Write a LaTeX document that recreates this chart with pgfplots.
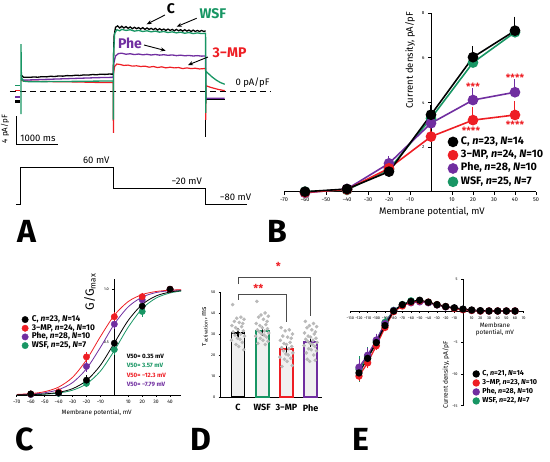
\documentclass[border=0pt]{standalone}
\usepackage{fontspec}
\setmainfont{Fira Sans}
\setsansfont{Fira Sans}
\usepackage{pgfplots}
\pgfplotsset{compat=1.18}
\usetikzlibrary{arrows.meta}
\definecolor{cgrn}{RGB}{24,150,100}
\definecolor{cred}{RGB}{238,30,36}
\definecolor{cpur}{RGB}{112,46,160}
\newcommand{\fs}[1]{\fontsize{#1}{#1}\selectfont}
\pgfplotsset{every axis/.append style={/pgf/number format/assume math mode=true}}
\begin{document}
\begin{tikzpicture}
\useasboundingbox (0pt,0pt) rectangle (550pt,462pt);

% ================= Panel A: traces =================
\begin{axis}[at={(0pt,315pt)},anchor=south west,scale only axis,width=273pt,height=140pt,
  xmin=-500,xmax=6000,ymin=-8,ymax=12,axis lines=none,clip=false]
\addplot[black,line width=0.9pt,dash pattern=on 6pt off 4pt] coordinates {(-262,0)(5929,0)};
\addplot[cgrn,line width=1.3pt] coordinates {(-140,0.76)(-30,0.76)};
\addplot[cred,line width=1.3pt] coordinates {(-140,0.04)(-30,0.04)};
\addplot[cpur,line width=2pt] coordinates {(-140,-0.9)(-30,-0.9)};
\addplot[black,line width=2.5pt] coordinates {(-140,-1.5)(-30,-1.5)};
% 3-MP
\addplot[cred,line width=1.2pt] coordinates {(0,1.5)(60,1.45)(200,1.4)(400,1.38)(600,1.35)(800,1.33)(1000,1.3)(1200,1.3)(1400,1.28)(1600,1.25)(1800,1.22)(2000,1.2)(2195,1.2)(2200,-6)(2205,2.6)(2230,3.5)(2280,3.85)(2350,3.8)(2450,3.65)(2550,3.7)(2650,3.55)(2750,3.6)(2850,3.5)(2950,3.55)(3050,3.4)(3150,3.5)(3250,3.35)(3350,3.45)(3450,3.3)(3550,3.4)(3650,3.3)(3750,3.35)(3850,3.2)(3950,3.3)(4050,3.2)(4150,3.25)(4250,3.15)(4350,3.2)(4395,3.2)(4400,-4.14)(4405,0.75)(4500,0.55)(4600,0.38)(4700,0.22)(4850,0.05)};
% Phe
\addplot[cpur,line width=1.3pt] coordinates {(0,1.7)(60,1.55)(200,1.58)(400,1.62)(600,1.66)(800,1.7)(1000,1.74)(1200,1.78)(1400,1.82)(1600,1.86)(1800,1.9)(2000,1.93)(2195,1.95)(2210,4.0)(2250,5.0)(2320,5.35)(2400,5.4)(2500,5.25)(2600,5.32)(2700,5.2)(2800,5.28)(2900,5.17)(3000,5.24)(3100,5.14)(3200,5.22)(3300,5.12)(3400,5.18)(3500,5.1)(3600,5.15)(3700,5.05)(3800,5.12)(3900,5.03)(4000,5.08)(4100,5.0)(4200,5.05)(4300,4.98)(4395,5.0)(4400,-1.05)(4850,-1.05)};
% C
\addplot[black,line width=1.3pt] coordinates {(0,2.3)(60,1.95)(200,1.95)(300,2.0)(400,1.97)(500,2.05)(600,2.02)(700,2.1)(800,2.07)(900,2.15)(1000,2.12)(1100,2.2)(1200,2.17)(1300,2.25)(1400,2.22)(1500,2.3)(1600,2.27)(1700,2.35)(1800,2.32)(1900,2.4)(2000,2.37)(2100,2.42)(2195,2.4)(2215,7.8)(2250,9.1)(2300,9.3)(2350,9.0)(2400,9.25)(2450,9.0)(2500,9.2)(2550,8.95)(2600,9.15)(2650,8.9)(2700,9.1)(2750,8.9)(2800,9.05)(2850,8.85)(2900,9.05)(2950,8.8)(3000,9.0)(3050,8.8)(3100,8.95)(3150,8.75)(3200,8.95)(3250,8.7)(3300,8.9)(3350,8.7)(3400,8.85)(3450,8.65)(3500,8.85)(3550,8.65)(3600,8.8)(3650,8.6)(3700,8.8)(3750,8.6)(3800,8.75)(3850,8.55)(3900,8.75)(3950,8.55)(4000,8.7)(4050,8.5)(4100,8.7)(4150,8.5)(4200,8.65)(4250,8.5)(4300,8.65)(4350,8.5)(4395,8.6)};
\addplot[black,line width=1.3pt] coordinates {(4410,-1.25)(4850,-1.25)};
% WSF
\addplot[cgrn,line width=1.3pt] coordinates {(0,-3.3)(0,6.7)(10,1.9)(60,1.4)(200,1.32)(400,1.33)(600,1.34)(800,1.35)(1000,1.36)(1200,1.37)(1400,1.38)(1600,1.4)(1800,1.41)(2000,1.42)(2195,1.43)(2200,-4.1)(2205,5.5)(2230,8.2)(2280,8.75)(2350,8.6)(2400,8.8)(2500,8.65)(2600,8.75)(2700,8.55)(2800,8.65)(2900,8.5)(3000,8.6)(3100,8.45)(3200,8.55)(3300,8.4)(3400,8.5)(3500,8.35)(3600,8.45)(3700,8.3)(3800,8.4)(3900,8.25)(4000,8.35)(4100,8.2)(4200,8.3)(4300,8.2)(4395,8.25)(4400,-3.14)(4405,2.8)(4450,2.55)(4550,2.0)(4650,1.55)(4750,1.2)(4850,0.96)};
\addplot[black,line width=1.3pt] coordinates {(4400,-4.14)(4400,-6.57)};
% annotations
\node[font=\fs{14}\bfseries] at (axis cs:3571,11.71) {C};
\draw[-{Stealth[length=5pt,width=4pt]},line width=0.9pt] (axis cs:3429,10.86) -- (axis cs:2993,9.53);
\node[font=\fs{14}\bfseries,text=cgrn] at (axis cs:4571,11) {WSF};
\draw[-{Stealth[length=5pt,width=4pt]},line width=0.9pt] (axis cs:4183,10.39) -- (axis cs:3707,9.19);
\node[font=\fs{14}\bfseries,text=cpur] at (axis cs:2595,6.79) {Phe};
\draw[-{Stealth[length=5pt,width=4pt]},line width=0.9pt] (axis cs:2929,6.57) -- (axis cs:3445,5.76);
\node[font=\fs{14}\bfseries,text=cred] at (axis cs:4964,5.5) {3−MP};
\draw[-{Stealth[length=5pt,width=4pt]},line width=0.9pt] (axis cs:4452,4.86) -- (axis cs:3976,3.71);
\node[anchor=west,font=\fs{9.5}] at (axis cs:5024,1.14) {0 pA/pF};
\draw[line width=0.9pt] (axis cs:-119,-3.6) -- (axis cs:-119,-7.57) -- (axis cs:881,-7.57);
\node[rotate=90,font=\fs{8}] at (axis cs:-381,-5.43) {4 pA/pF};
\node[font=\fs{9.5}] at (axis cs:405,-6.8) {1000 ms};
\end{axis}

% ================= Panel A: protocol =================
\begin{axis}[at={(0pt,246.75pt)},anchor=south west,scale only axis,width=273pt,height=57.75pt,
  xmin=-500,xmax=6000,ymin=-120,ymax=100,axis lines=none,clip=false]
\addplot[black,line width=1pt] coordinates {(-120,-80)(0,-80)(0,60)(2200,60)(2200,-20)(4400,-20)(4400,-80)(5380,-80)};
\node[anchor=south east,font=\fs{9.5}] at (axis cs:2190,62) {60 mV};
\node[anchor=south east,font=\fs{9.5}] at (axis cs:4390,-18) {−20 mV};
\node[anchor=south west,font=\fs{9.5}] at (axis cs:4650,-78) {−80 mV};
\end{axis}

% ================= Panel B =================
\begin{axis}[at={(284pt,270.3pt)},anchor=south west,scale only axis,width=252pt,height=178.4pt,
  xmin=-70,xmax=50,ymin=0,ymax=8,axis lines=middle,axis line style={-,line width=0.9pt},clip=false,
  xtick={-70,-60,...,50},xticklabels={−70,−60,−50,−40,−30,−20,−10,0,10,20,30,40,50},
  ytick={2,4,6,8},tick align=outside,major tick length=3pt,tick style={black,line width=0.8pt},
  xticklabel style={font=\fs{5.5}},yticklabel style={font=\fs{4.5}},
  xlabel={Membrane potential, mV},ylabel={Current density, pA/pF},
  xlabel style={at={(axis description cs:0.587,-0.114)},anchor=center,font=\fs{9.5}},
  ylabel style={at={(axis description cs:0.5,0.738)},anchor=center,rotate=90,font=\fs{9.5}},
  reverse legend,legend cell align=left,
  legend image code/.code={\draw[#1,only marks] plot coordinates {(4.5pt,0pt)};},
  legend style={at={(axis description cs:0.652,0.3055)},anchor=north west,draw=none,fill=none,
    inner sep=0pt,row sep=4.3pt,column sep=3.5pt,font=\fs{10.8}\bfseries,
    nodes={inner sep=0pt,text height=7pt,text depth=2pt}},
  error bars/error bar style={line width=1pt},
  error bars/error mark options={line width=1pt,mark size=4pt}]
\addplot[cgrn,line width=1.6pt,mark=*,mark size=4.5pt,error bars/.cd,y dir=plus,y explicit]
  coordinates {(-60,0) +- (0,0.04) (-40,0.08) +- (0,0.04) (-20,1.0) +- (0,0.1) (0,3.29) +- (0,0.25) (20,5.79) +- (0,0.3) (40,7.15) +- (0,0.3)};
\addlegendentry{WSF, \textit{n}=25, \textit{N}=7}
\addplot[cpur,line width=1.6pt,mark=*,mark size=4.5pt,error bars/.cd,y dir=plus,y explicit]
  coordinates {(-60,-0.05) +- (0,0.04) (-40,0.12) +- (0,0.05) (-20,1.27) +- (0,0.15) (0,3.07) +- (0,0.2) (20,4.11) +- (0,0.35) (40,4.46) +- (0,0.4)};
\addlegendentry{Phe, \textit{n}=28, \textit{N}=10}
\addplot[cred,line width=1.6pt,mark=*,mark size=4.5pt,error bars/.cd,y dir=plus,y explicit]
  coordinates {(-60,-0.03) +- (0,0.04) (-40,0.1) +- (0,0.04) (-20,1.05) +- (0,0.1) (0,2.47) +- (0,0.3) (20,3.21) +- (0,0.42) (40,3.44) +- (0,0.45)};
\addlegendentry{3−MP, \textit{n}=24, \textit{N}=10}
\addplot[black,line width=1.6pt,mark=*,mark size=4.5pt,error bars/.cd,y dir=plus,y explicit]
  coordinates {(-60,0) +- (0,0.05) (-40,0.12) +- (0,0.05) (-20,0.9) +- (0,0.1) (0,3.45) +- (0,0.25) (20,6.03) +- (0,0.32) (40,7.22) +- (0,0.45)};
\addlegendentry{C, \textit{n}=23, \textit{N}=14}
\node[text=cred,font=\fs{10}\bfseries] at (axis cs:20,4.69) {***};
\node[text=cred,font=\fs{10}\bfseries] at (axis cs:40,5.1) {****};
\node[text=cred,font=\fs{10}\bfseries] at (axis cs:19,2.72) {****};
\node[text=cred,font=\fs{10}\bfseries] at (axis cs:40,2.99) {****};
\end{axis}

% ================= Panel C =================
\begin{axis}[at={(16.8pt,67pt)},anchor=south west,scale only axis,width=164.4pt,height=116.3pt,
  xmin=-70,xmax=48,ymin=0,ymax=1.1,axis lines=middle,axis line style={-,line width=0.8pt},clip=false,
  xtick={-70,-60,...,40},xticklabels={−70,−60,−50,−40,−30,−20,−10,0,10,20,30,40},
  ytick={0.5,1.0},yticklabels={0.5,1.0},tick align=outside,major tick length=2pt,tick style={black,line width=0.6pt},
  xticklabel style={font=\fs{5}},yticklabel style={font=\fs{3.8}},
  xlabel={Membrane potential, mV},ylabel={G/G\textsubscript{max}},
  xlabel style={at={(axis description cs:0.486,-0.149)},anchor=center,font=\fs{6.3}},
  ylabel style={at={(axis description cs:0.445,0.886)},anchor=center,rotate=90,font=\fs{12}},
  reverse legend,legend cell align=left,
  legend image code/.code={\draw[#1,only marks] plot coordinates {(3.2pt,0pt)};},
  legend style={at={(axis description cs:0.030,0.679)},anchor=north west,draw=none,fill=none,
    inner sep=0pt,row sep=1.97pt,column sep=3.5pt,font=\fs{8.3}\bfseries,
    nodes={inner sep=0pt,text height=5.2pt,text depth=1.5pt}},
  error bars/error bar style={line width=0.7pt},
  error bars/error mark options={line width=0.7pt,mark size=2pt}]
\addplot[cgrn,line width=0.8pt,smooth,forget plot] coordinates {(-70,0.0012)(-60,0.0031)(-50,0.0076)(-40,0.0187)(-30,0.0451)(-20,0.105)(-10,0.2255)(0,0.420)(10,0.642)(20,0.817)(30,0.917)(40,0.965)(48,0.983)};
\addplot[cpur,line width=0.8pt,smooth,forget plot] coordinates {(-70,0.0035)(-60,0.0086)(-50,0.0211)(-40,0.0508)(-30,0.117)(-20,0.248)(-10,0.450)(0,0.670)(10,0.834)(20,0.926)(30,0.969)(40,0.987)(48,0.994)};
\addplot[cred,line width=0.8pt,smooth,forget plot] coordinates {(-70,0.0052)(-60,0.0129)(-50,0.0314)(-40,0.0746)(-30,0.167)(-20,0.332)(-10,0.552)(0,0.754)(10,0.884)(20,0.950)(30,0.979)(40,0.9915)(48,0.996)};
\addplot[black,line width=0.8pt,smooth,forget plot] coordinates {(-70,0.0017)(-60,0.0041)(-50,0.0102)(-40,0.0249)(-30,0.0596)(-20,0.136)(-10,0.281)(0,0.492)(10,0.706)(20,0.856)(30,0.937)(40,0.974)(48,0.987)};
\addplot[cgrn,only marks,mark=*,mark size=3.2pt,error bars/.cd,y dir=both,y explicit]
  coordinates {(-60,0.005) +- (0,0.01) (-40,0.015) +- (0,0.01) (-20,0.11) +- (0,0.02) (0,0.43) +- (0,0.03) (20,0.79) +- (0,0.03) (40,1.0) +- (0,0.01)};
\addlegendentry{WSF, \textit{n}=25, \textit{N}=7}
\addplot[cpur,only marks,mark=*,mark size=3.2pt,error bars/.cd,y dir=both,y explicit]
  coordinates {(-60,0.005) +- (0,0.01) (-40,0.02) +- (0,0.01) (-20,0.27) +- (0,0.03) (0,0.67) +- (0,0.03) (20,0.90) +- (0,0.02) (40,1.0) +- (0,0.01)};
\addlegendentry{Phe, \textit{n}=28, \textit{N}=10}
\addplot[cred,only marks,mark=*,mark size=3.2pt,error bars/.cd,y dir=both,y explicit]
  coordinates {(-60,0.01) +- (0,0.01) (-40,0.03) +- (0,0.01) (-20,0.36) +- (0,0.03) (0,0.74) +- (0,0.03) (20,0.93) +- (0,0.02) (40,1.0) +- (0,0.01)};
\addlegendentry{3−MP, \textit{n}=24, \textit{N}=10}
\addplot[black,only marks,mark=*,mark size=3.2pt,error bars/.cd,y dir=both,y explicit]
  coordinates {(-60,0.01) +- (0,0.01) (-40,0.02) +- (0,0.01) (-20,0.14) +- (0,0.03) (0,0.49) +- (0,0.03) (20,0.84) +- (0,0.03) (40,1.0) +- (0,0.01)};
\addlegendentry{C, \textit{n}=23, \textit{N}=14}
\node[anchor=west,font=\fs{6.2}\bfseries,text=black] at (axis cs:6.5,0.369) {V50= 0.35 mV};
\node[anchor=west,font=\fs{6.2}\bfseries,text=cgrn] at (axis cs:6.5,0.284) {V50= 3.57 mV};
\node[anchor=west,font=\fs{6.2}\bfseries,text=cred] at (axis cs:6.5,0.189) {V50= −12.3 mV};
\node[anchor=west,font=\fs{6.2}\bfseries,text=cpur] at (axis cs:6.5,0.101) {V50= −7.79 mV};
\end{axis}

% ================= Panel D =================
\begin{axis}[at={(220.7pt,65pt)},anchor=south west,scale only axis,width=101.3pt,height=105pt,
  xmin=-0.715,xmax=3.47,ymin=0,ymax=50,axis lines=left,axis line style={-,line width=0.8pt},clip=false,
  xtick={0,1,2,3},xticklabels={C,WSF,3−MP,Phe},major x tick style={draw=none},
  ytick={0,10,...,50},tick align=outside,major tick length=2pt,tick style={black,line width=0.6pt},
  xticklabel style={font=\fs{9}\bfseries,yshift=-2pt},yticklabel style={font=\fs{3.8}},
  ylabel={τ\textsubscript{activation}, ms},
  ylabel style={at={(axis description cs:-0.155,0.67)},anchor=center,font=\fs{7}}]
\addplot[ybar,bar width=13pt,bar shift=0pt,draw=none,fill=gray!12] coordinates {(0,30.5)};
\addplot[ybar,bar width=13pt,bar shift=0pt,draw=none,fill=gray!12] coordinates {(1,31.6)};
\addplot[ybar,bar width=13pt,bar shift=0pt,draw=none,fill=gray!12] coordinates {(2,22.9)};
\addplot[ybar,bar width=13pt,bar shift=0pt,draw=none,fill=gray!12] coordinates {(3,26.3)};
\addplot[only marks,mark=*,mark size=1.6pt,gray!55] coordinates {
(-0.22,44)(0.12,38)(-0.05,37.5)(0.25,37)(-0.15,36)(0.05,35.5)(0.2,35)(-0.25,34)(0.15,33.5)(-0.1,33)(0,32)(0.22,31.5)(-0.2,31)(0.1,30)(-0.12,29.5)(0.27,29)(-0.02,28)(0.08,27.5)(-0.27,27)(0.18,26)(-0.08,25)(0.03,24)(0.24,22.5)
(0.78,45.5)(1.12,40)(0.95,39)(1.25,38.5)(0.85,38)(1.05,37)(1.2,36)(0.75,35)(1.15,34.5)(0.9,34)(1.0,33)(1.22,32.5)(0.8,32)(1.1,31.5)(0.88,31)(1.27,30.5)(0.98,30)(1.08,29.5)(0.73,29)(1.18,28.5)(0.92,28)(1.03,27)(1.24,26.5)(0.82,25.5)(1.13,25)
(1.78,33)(2.12,32)(1.95,31.5)(2.25,30)(1.85,29)(2.05,28.5)(2.2,28)(1.75,27)(2.15,26)(1.9,25.5)(2.0,25)(2.22,24)(1.8,23.5)(2.1,23)(1.88,22)(2.27,21)(1.98,20.5)(2.08,20)(1.73,19)(2.18,18.5)(1.92,18)(2.03,17)(2.24,15)(1.82,14.5)
(2.78,36)(3.12,35)(2.95,34)(3.25,33.5)(2.85,33)(3.05,32)(3.2,31)(2.75,30.5)(3.15,30)(2.9,29)(3.0,28.5)(3.22,28)(2.8,27.5)(3.1,27)(2.88,26.5)(3.27,26)(2.98,25.5)(3.08,25)(2.73,24.5)(3.18,24)(2.92,23)(3.03,22.5)(3.24,22)(2.82,21)(3.13,20)(2.86,18)(3.19,17.5)(2.96,17)};
\addplot[ybar,bar width=13pt,bar shift=0pt,draw=black,line width=1.8pt,fill=none,error bars/.cd,y dir=both,y explicit,error bar style={line width=1.3pt},error mark options={line width=1.3pt,mark size=3pt}] coordinates {(0,30.5) +- (0,1.0)};
\addplot[ybar,bar width=13pt,bar shift=0pt,draw=cgrn,line width=1.8pt,fill=none,error bars/.cd,y dir=both,y explicit,error bar style={line width=1.3pt},error mark options={line width=1.3pt,mark size=3pt}] coordinates {(1,31.6) +- (0,1.0)};
\addplot[ybar,bar width=13pt,bar shift=0pt,draw=cred,line width=1.8pt,fill=none,error bars/.cd,y dir=both,y explicit,error bar style={line width=1.3pt},error mark options={line width=1.3pt,mark size=3pt}] coordinates {(2,22.9) +- (0,1.2)};
\addplot[ybar,bar width=13pt,bar shift=0pt,draw=cpur,line width=1.8pt,fill=none,error bars/.cd,y dir=both,y explicit,error bar style={line width=1.3pt},error mark options={line width=1.3pt,mark size=3pt}] coordinates {(3,26.3) +- (0,1.0)};
\draw[black!70,line width=0.9pt] (axis cs:0,53.7) -- (axis cs:0,56.8) -- (axis cs:3,56.8) -- (axis cs:3,38.7);
\draw[black!70,line width=0.9pt] (axis cs:0,46.2) -- (axis cs:0,48.9) -- (axis cs:2,48.9) -- (axis cs:2,35.9);
\node[text=cred,font=\fs{11}\bfseries] at (axis cs:1.67,62) {*};
\node[text=cred,font=\fs{11}\bfseries] at (axis cs:0.84,51.5) {**};
\end{axis}

% ================= Panel E =================
\begin{axis}[at={(350.3pt,56.2pt)},anchor=south west,scale only axis,width=173.4pt,height=126.4pt,
  xmin=-130,xmax=70,ymin=-15,ymax=5,axis lines=middle,axis line style={-,line width=0.8pt},clip=false,
  xtick={-130,-120,-110,-100,-90,-80,-70,-60,-50,-40,-30,-20,-10,10,20,30,40,50,60,70},
  xticklabels={−130,−120,−110,−100,−90,−80,−70,−60,−50,−40,−30,−20,−10,10,20,30,40,50,60,70},
  ytick={-15,-10,-5,5},yticklabels={−15,−10,−5,5},
  tick align=outside,major tick length=2pt,tick style={black,line width=0.6pt},
  xticklabel style={font=\fs{3.8}},yticklabel style={font=\fs{3.8}},
  xlabel={Membrane\\potential, mV},ylabel={Current density, pA/pF},
  xlabel style={at={(axis description cs:0.834,0.604)},anchor=center,align=center,font=\fs{6.3}},
  ylabel style={at={(axis description cs:0.552,0.244)},anchor=center,rotate=90,font=\fs{6.6}},
  reverse legend,legend cell align=left,
  legend image code/.code={\draw[#1,only marks] plot coordinates {(3pt,0pt)};},
  legend style={at={(axis description cs:0.7076,0.2773)},anchor=north west,draw=none,fill=none,
    inner sep=0pt,row sep=3pt,column sep=3.3pt,font=\fs{7.2}\bfseries,
    nodes={inner sep=0pt,text height=4.5pt,text depth=1.3pt}},
  error bars/error bar style={line width=0.7pt},
  error bars/error mark options={line width=0.7pt,mark size=2pt}]
\addplot[cgrn,line width=1.3pt,mark=*,mark size=3pt,error bars/.cd,y dir=both,y explicit]
  coordinates {(-120,-9.2) +- (0,1.7) (-110,-7.2) +- (0,1.2) (-100,-4.8) +- (0,0.9) (-90,-1.8) +- (0,0.5) (-80,0.1) (-70,1.0) (-60,1.6) (-50,1.6) (-40,1.35) (-30,1.0) (-20,0.7) (-10,0.45) (0,0.25) (10,0.1) (20,0) (30,0) (40,0) (50,0) (60,0)};
\addlegendentry{WSF, \textit{n}=22, \textit{N}=7}
\addplot[cpur,line width=1.3pt,mark=*,mark size=3pt,error bars/.cd,y dir=both,y explicit]
  coordinates {(-120,-8.9) +- (0,1.0) (-110,-7.0) +- (0,0.9) (-100,-4.6) +- (0,0.7) (-90,-2.0) +- (0,0.4) (-80,0.05) (-70,0.9) (-60,1.3) (-50,1.45) (-40,1.3) (-30,0.95) (-20,0.65) (-10,0.45) (0,0.25) (10,0.1) (20,0) (30,0) (40,0) (50,0) (60,0)};
\addlegendentry{Phe, \textit{n}=28, \textit{N}=10}
\addplot[cred,line width=1.3pt,mark=*,mark size=3pt,error bars/.cd,y dir=both,y explicit]
  coordinates {(-120,-10.3) +- (0,0.5) (-110,-8.2) +- (0,0.5) (-100,-5.5) +- (0,0.4) (-90,-2.6) +- (0,0.3) (-80,-0.1) (-70,0.8) (-60,1.4) (-50,1.6) (-40,1.4) (-30,1.0) (-20,0.7) (-10,0.4) (0,0.2) (10,0.1) (20,0) (30,0) (40,0) (50,0) (60,0)};
\addlegendentry{3−MP, \textit{n}=23, \textit{N}=10}
\addplot[black,line width=1.3pt,mark=*,mark size=3pt,error bars/.cd,y dir=both,y explicit]
  coordinates {(-120,-9.8) +- (0,0.6) (-110,-7.5) +- (0,0.5) (-100,-5.0) +- (0,0.4) (-90,-2.3) +- (0,0.3) (-80,0.0) (-70,1.0) (-60,1.5) (-50,1.7) (-40,1.4) (-30,1.0) (-20,0.7) (-10,0.5) (0,0.3) (10,0.15) (20,0.05) (30,0) (40,0) (50,0) (60,0)};
\addlegendentry{C, \textit{n}=21, \textit{N}=14}
\end{axis}

% panel letters
\node[font=\fs{32}\bfseries,inner sep=0pt] at (27pt,231pt) {A};
\node[font=\fs{32}\bfseries,inner sep=0pt] at (277pt,231pt) {B};
\node[font=\fs{32}\bfseries,inner sep=0pt] at (25pt,23pt) {C};
\node[font=\fs{32}\bfseries,inner sep=0pt] at (201pt,23pt) {D};
\node[font=\fs{32}\bfseries,inner sep=0pt] at (361pt,23pt) {E};
\end{tikzpicture}
\end{document}
